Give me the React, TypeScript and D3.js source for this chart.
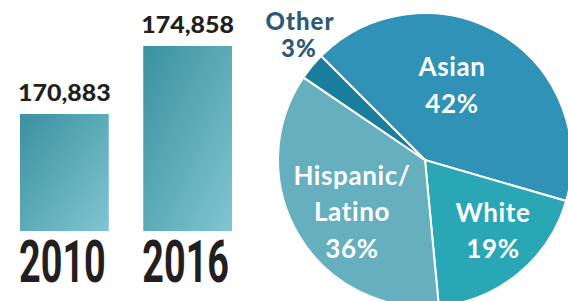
import * as d3 from 'd3';

const WIDTH = 568;
const HEIGHT = 301;

// bar data
const years = ['2010', '2016'];
const population = [170883, 174858];

// pie data (percent)
const groups = ['Asian', 'White', 'Hispanic/Latino', 'Other'];
const shares = [42, 19, 36, 3];

const PIE_COLORS: Record<string, string> = {
  Asian: '#2f92b6',
  White: '#2aa7b5',
  'Hispanic/Latino': '#66afbe',
  Other: '#1a7d9d',
};

const App = () => {
  // bars: truncated y axis, as in the original graphic
  const xScale = d3.scaleBand().domain(years).range([20, 232]).paddingInner(0.28).paddingOuter(0);
  const yScale = d3.scaleLinear().domain([164045, 174858]).range([231, 46]);

  const bars = population.map((v, i) => {
    const x = xScale(years[i]) ?? 0;
    const w = xScale.bandwidth();
    return (
      <g key={years[i]}>
        <rect x={x} y={yScale(v)} width={w} height={yScale.range()[0] - yScale(v)} fill="url(#barGrad)" />
        <text
          x={x + w / 2}
          y={yScale(v) - 13}
          textAnchor="middle"
          fontFamily="Lato, sans-serif"
          fontWeight={900}
          fontSize={22}
          fill="#231f20"
          textLength={w + 4}
          lengthAdjust="spacingAndGlyphs"
        >
          {d3.format(',')(v)}
        </text>
        {/* condensed year label: squeeze horizontally */}
        <g transform={`translate(${x + w / 2 - 2},282) scale(0.64,1)`}>
          <text
            x={0}
            y={0}
            textAnchor="middle"
            fontFamily="Roboto, sans-serif"
            fontWeight={700}
            fontSize={59}
            fill="#231f20"
          >
            {years[i]}
          </text>
        </g>
      </g>
    );
  });

  // pie
  const cx = 425;
  const cy = 160;
  const r = 147;
  const start = (-45 * Math.PI) / 180;
  const pieData = groups.map((g, i) => ({ group: g, value: shares[i] }));
  const arcs = d3
    .pie<{ group: string; value: number }>()
    .value((d) => d.value)
    .sort(null)
    .startAngle(start)
    .endAngle(start + 2 * Math.PI)(pieData);
  const arcGen = d3.arc<d3.PieArcDatum<{ group: string; value: number }>>().innerRadius(0).outerRadius(r);

  const slices = arcs.map((a) => (
    <path key={a.data.group} d={arcGen(a) ?? ''} fill={PIE_COLORS[a.data.group]} stroke="#ffffff" strokeWidth={2} />
  ));

  const labelStyle = {
    fontFamily: 'Lato, sans-serif',
    fontWeight: 700,
    fontSize: 26,
    letterSpacing: 0.6,
    fill: '#ffffff',
  };
  const otherStyle = {
    fontFamily: 'Lato, sans-serif',
    fontWeight: 900,
    fontSize: 24,
    letterSpacing: 1,
    fill: '#2d5a74',
  };

  return (
    <svg width={WIDTH} height={HEIGHT} style={{ position: 'absolute', left: 0, top: 0 }}>
      <defs>
        <linearGradient id="barGrad" x1="0" y1="0" x2="1" y2="1">
          <stop offset="0%" stopColor="#3a919f" />
          <stop offset="100%" stopColor="#80c5d2" />
        </linearGradient>
      </defs>
      {bars}
      <g transform={`translate(${cx},${cy})`}>
        {slices}
        <text x={27} y={-84} textAnchor="middle" {...labelStyle}>Asian</text>
        <text x={27} y={-47} textAnchor="middle" {...labelStyle}>{shares[0]}%</text>
        <text x={68} y={62} textAnchor="middle" {...labelStyle}>White</text>
        <text x={68} y={98} textAnchor="middle" {...labelStyle}>{shares[1]}%</text>
        <text x={-73} y={25} textAnchor="middle" {...labelStyle}>Hispanic/</text>
        <text x={-73} y={61} textAnchor="middle" {...labelStyle}>Latino</text>
        <text x={-73} y={98} textAnchor="middle" {...labelStyle}>{shares[2]}%</text>
      </g>
      <text x={300} y={30} textAnchor="middle" {...otherStyle}>Other</text>
      <text x={299} y={57} textAnchor="middle" {...otherStyle}>{shares[3]}%</text>
    </svg>
  );
};

export default App;
